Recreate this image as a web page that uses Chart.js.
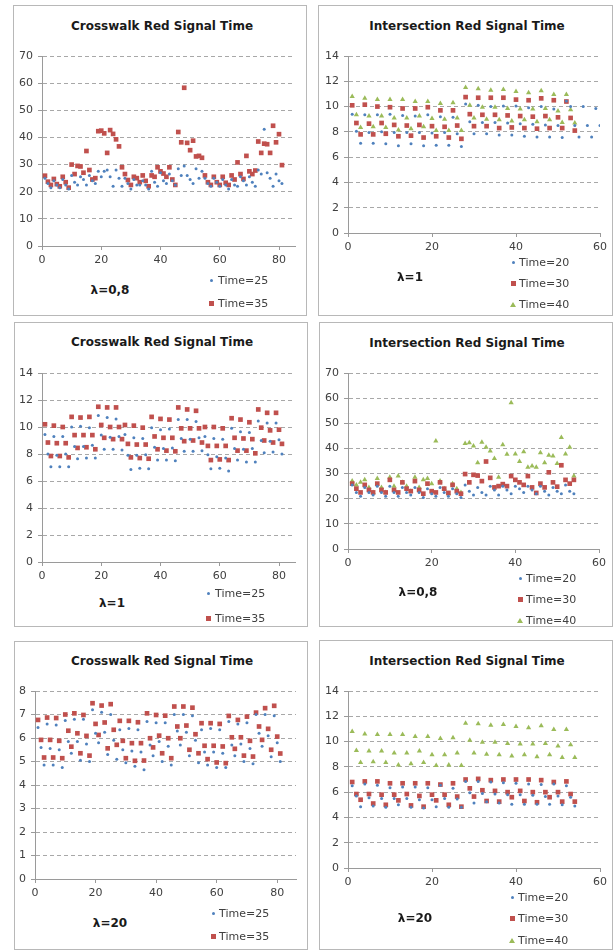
<!DOCTYPE html>
<html>
<head>
<meta charset="utf-8">
<script src="https://cdn.jsdelivr.net/npm/chart.js@4"></script>
<style>
  html, body { margin: 0; padding: 0; background: #ffffff; }
  body { width: 614px; height: 952px; position: relative; overflow: hidden; font-family: "DejaVu Sans", sans-serif; }
  .panel { position: absolute; box-sizing: border-box; border: 1px solid #b8b8b8; background: #fff; }
  canvas { position: absolute; }
  .title { position: absolute; transform: translate(-50%, -50%); font-weight: bold; font-size: 12px; color: #1a1a1a; white-space: nowrap; }
  .lam { position: absolute; transform: translate(-50%, -50%); font-weight: bold; font-size: 12px; color: #1a1a1a; white-space: nowrap; }
  .legtxt { position: absolute; transform: translateY(-50%); font-size: 11px; color: #404040; white-space: nowrap; }
  .mk { position: absolute; }
</style>
</head>
<body>
<script>
// ---------------- DATA ----------------
// Crosswalk, lambda = 0,8
const cw08_t25 = [25,23,21.5,24,22.5,21.5,24.5,22.5,21,26,23.5,22.5,25.5,24.5,22.5,26,24,23,27.5,25.5,27.5,28,25.5,22,28,25,22,25,23,21,24.5,22.5,22.5,24,22.5,21,27.5,23.5,22,27,24,23,26.5,24,22.5,28.5,26,29.5,26,24.5,23,28.5,25,27.5,25,23,22,25,23.5,22,24.5,22.5,21,24.5,22.5,22,25.5,24,22.5,25.5,23.5,22,28,26.5,43,27,25,22,26.5,24,23];
const cw08_t35 = [25.9,23.7,22.5,24.7,22.8,22,25.5,23.5,21.5,30,26.5,29.5,29.3,27,35,28,24.5,25,42.3,42.5,41.5,34.3,42.7,41.3,39.3,36.7,29,26.5,24.3,22.5,25.5,25,23.5,26,24,22,26,25.5,29,27.5,26.7,25.5,29,24.5,22.5,42,38.2,58.3,38,35.3,38.8,33,33.2,32.5,26,23.5,22.5,25.5,23.5,22.5,25.5,23.3,22.5,26,24.5,30.8,26.5,24.7,33.2,27.5,26.5,27.8,38.5,34.3,37.7,37.5,34.3,44.3,38.2,41.2,29.8];

// Intersection, lambda = 1
const in1_t20 = [9.4,8.05,7.1,9.35,7.95,7.1,9.35,8.0,7.05,9.4,7.95,6.9,9.3,7.95,7.05,9.25,7.95,6.9,9.35,7.9,6.95,9.2,7.95,6.95,9.15,7.85,6.85,10.2,8.8,7.85,10.1,8.75,7.85,10.0,8.75,7.75,10.05,8.7,7.75,10.05,8.65,7.65,9.9,8.6,7.6,10.0,8.55,7.6,9.8,8.5,7.55,10.45,10.0,8.5,7.6,10.0,8.5,7.6,9.85,8.5];
const in1_t30 = [10.1,8.7,7.8,10.15,8.65,7.8,10.0,8.7,7.85,9.95,8.55,7.65,9.85,8.5,7.7,9.85,8.55,7.55,9.95,8.45,7.65,9.7,8.4,7.55,9.7,8.5,7.45,10.75,9.4,8.45,10.7,9.35,8.45,10.7,9.35,8.3,10.7,9.3,8.35,10.55,9.25,8.3,10.5,9.2,8.25,10.65,9.25,8.3,10.5,9.15,8.3,10.4,9.1,8.1];
const in1_t40 = [10.8,9.35,8.35,10.65,9.25,8.4,10.55,9.25,8.35,10.55,9.1,8.15,10.55,9.1,8.25,10.4,9.25,8.4,10.4,9.05,8.1,10.25,9.0,8.1,10.3,9.1,8.1,11.5,10.1,9.1,11.4,9.95,9.0,11.3,9.95,8.95,11.35,9.85,8.85,11.2,9.8,8.95,11.1,9.8,8.8,11.25,9.85,8.95,10.95,9.65,8.75,10.95,9.75,8.7];

// Crosswalk, lambda = 1
const cw1_t25 = [9.45,8.0,7.05,9.3,7.9,7.05,9.3,8.0,7.05,10.0,8.55,7.65,10.05,8.55,7.7,9.95,8.65,7.7,10.85,9.4,8.35,10.7,9.25,8.35,10.6,9.3,8.3,9.45,7.9,6.85,9.2,7.9,6.95,9.15,7.95,6.9,9.95,8.5,7.55,9.8,8.4,7.55,9.85,8.45,7.5,10.55,9.15,8.2,10.55,9.1,8.2,10.4,9.2,8.25,9.3,7.95,6.9,9.15,7.8,6.95,9.1,7.7,6.75,9.9,8.4,7.55,9.65,8.35,7.4,9.6,8.4,7.4,10.45,9.0,8.1,10.3,8.95,8.15,10.3,9.05,8.0];
const cw1_t35 = [10.2,8.85,7.85,10.1,8.8,7.85,10.0,8.8,7.75,10.75,9.4,8.45,10.7,9.4,8.5,10.75,9.4,8.35,11.5,10.15,9.2,11.45,10.0,9.1,11.45,10.0,9.1,10.15,8.75,7.75,10.1,8.7,7.7,9.95,8.7,7.65,10.75,9.3,8.35,10.6,9.2,8.25,10.55,9.2,8.2,11.45,9.9,8.95,11.3,9.9,9.0,11.2,9.9,8.85,10.0,8.6,7.55,10.0,8.6,7.6,9.9,8.6,7.55,10.65,9.2,8.25,10.55,9.15,8.25,10.35,9.1,8.05,11.3,9.95,9.0,11.05,9.75,8.85,11.05,9.8,8.75];

// Intersection, lambda = 0,8
const in08_t20 = [25.5,22.5,21,24.5,22.5,21.5,25,22.5,21,25,22.5,21,24.5,22.5,21.5,24.5,22.5,20.5,24,22,21,24.5,22.5,21,24,22,20.5,25.5,23,21.5,24.5,22.5,21.5,25,23.5,21.5,25,23.5,22,25,24,22.5,25,23.5,22,25,23,21.5,24.5,23,22,25.5,23,22];
const in08_t30 = [26,24,22.5,25.5,23.5,22.5,26,23.5,22.5,27.5,23.5,22.5,26.5,24,23,27,23.5,22,26,23,22.5,26.5,24,22.3,25.5,23,22,29.8,26.5,29.5,29.2,27,34.8,28.3,24.5,25,25.8,25,29,27.5,26.5,25.5,29,24.5,22.3,26,24.5,30.5,26.5,24.8,33.3,27.5,26,27.5];
const in08_t40 = [27,25.5,26.5,27.5,24.5,22.5,28,24.5,22.5,28.5,25,29,26.5,25,23,28.5,24.5,27.5,28,26,43,27,24,22,26,24,22.5,42,42.3,41,34.3,42.5,40.5,39,36,28.5,41.5,37.7,58.2,37.8,34.8,38.7,32.5,33,32.5,38.3,34.3,37.3,37,34,44.3,37.8,40.5,29];

// Crosswalk, lambda = 20
const cw20_t25 = [6.45,5.6,4.85,6.6,5.55,4.85,6.55,5.5,4.75,6.75,5.85,5.35,6.8,5.85,5.05,6.8,5.75,5.0,7.2,6.2,5.8,7.1,6.25,5.3,7.0,5.9,5.1,6.35,5.5,4.95,6.4,5.45,4.8,6.35,5.4,4.65,6.7,5.7,5.25,6.65,5.85,5.0,6.65,5.65,4.85,7.0,6.3,5.7,7.0,6.25,5.25,6.95,5.9,4.95,6.35,5.4,4.85,6.4,5.4,4.75,6.35,5.35,4.75,6.7,5.7,5.25,6.6,5.75,5.0,6.65,5.55,4.9,7.0,6.2,5.65,7.0,6.1,5.2,6.95,5.8,5.0];
const cw20_t35 = [6.77,5.92,5.17,6.87,5.92,5.17,6.85,5.88,5.14,7.0,6.31,5.63,7.05,6.2,5.35,6.98,6.09,5.25,7.48,6.6,6.13,7.38,6.66,5.56,7.44,6.35,5.71,6.73,5.88,5.14,6.73,5.78,5.03,6.67,5.78,5.04,7.05,5.99,5.6,6.98,6.1,5.35,6.95,5.99,5.14,7.34,6.49,5.99,7.34,6.53,5.5,7.29,6.16,5.35,6.63,5.67,5.1,6.63,5.67,4.96,6.6,5.64,4.93,6.94,6.03,5.54,6.77,6.03,5.25,6.91,5.88,5.21,7.08,6.49,5.92,7.27,6.39,5.5,7.37,6.06,5.34];

// Intersection, lambda = 20
const in20_t20 = [6.5,5.7,4.85,6.65,5.55,4.9,6.55,5.5,4.8,6.35,5.5,5.0,6.4,5.5,4.8,6.4,5.4,4.75,6.35,5.4,4.85,6.55,5.5,4.8,6.3,5.45,4.8,6.85,5.95,5.15,6.85,5.9,5.25,6.8,5.85,5.15,6.75,5.8,5.05,6.7,5.8,5.05,6.65,5.75,5.05,6.6,5.65,5.05,6.65,5.7,5.0,6.5,5.6,4.9];
const in20_t30 = [6.8,5.85,5.4,6.85,5.85,5.1,6.85,5.8,5.0,6.7,5.8,5.35,6.7,5.85,4.95,6.7,5.7,4.85,6.7,5.8,5.35,6.6,5.8,5.0,6.7,5.65,4.85,7.0,6.3,5.65,7.05,6.15,5.3,6.95,6.1,5.25,7.0,6.0,5.6,7.0,6.1,5.3,7.0,6.0,5.2,6.95,6.0,5.6,6.8,6.0,5.25,6.85,5.85,5.25];
const in20_t40 = [10.8,9.3,8.35,10.6,9.25,8.4,10.55,9.25,8.35,10.55,9.1,8.15,10.55,9.1,8.25,10.4,9.25,8.35,10.4,8.95,8.1,10.25,8.95,8.15,10.3,9.1,8.1,11.45,10.1,9.1,11.4,9.95,9.0,11.3,9.95,8.95,11.35,9.85,8.85,11.2,9.8,8.95,11.1,9.8,8.8,11.25,9.85,8.95,10.95,9.65,8.75,10.95,9.75,8.75];

// Texts
const titleCross = "Crosswalk Red Signal Time";
const titleInter = "Intersection Red Signal Time";
const crossLabels = ["Time=25", "Time=35"];
const interLabels = ["Time=20", "Time=30", "Time=40"];

// ---------------- STYLE ----------------
const BLUE = "#4f81bd", RED = "#c0504d", GREEN = "#9bbb59";
const AXIS = "#9a9a9a", GRID = "#a8a8a8";
const styles = {
  blue:  { color: BLUE,  pointStyle: "circle",   r: 1.5 },
  red:   { color: RED,   pointStyle: "rect",     r: 3.3 },
  green: { color: GREEN, pointStyle: "triangle", r: 3.0 }
};

const panels = [
  { box: [13, 5, 294, 311], area: [42, 56, 295, 246], xmax: 85.4, ymax: 70, ystep: 10,
    title: titleCross, tpos: [162, 26], lam: "λ=0,8", lpos: [110, 290],
    series: [[cw08_t25, "blue"], [cw08_t35, "red"]], labels: crossLabels,
    leg: { x: 211, tx: 218, ys: [280, 303] } },
  { box: [318, 5, 295, 311], area: [348, 56, 600, 233], xmax: 60, ymax: 14, ystep: 2,
    title: titleInter, tpos: [467, 26], lam: "λ=1", lpos: [410, 277],
    series: [[in1_t20, "blue"], [in1_t30, "red"], [in1_t40, "green"]], labels: interLabels,
    leg: { x: 513, tx: 519, ys: [262, 283, 304] } },
  { box: [14, 322, 294, 305], area: [42, 373, 295, 562], xmax: 85.4, ymax: 14, ystep: 2,
    title: titleCross, tpos: [162, 342], lam: "λ=1", lpos: [112, 603],
    series: [[cw1_t25, "blue"], [cw1_t35, "red"]], labels: crossLabels,
    leg: { x: 208, tx: 215, ys: [593, 618] } },
  { box: [319, 322, 294, 305], area: [348, 373, 599, 549], xmax: 60, ymax: 70, ystep: 10,
    title: titleInter, tpos: [467, 343], lam: "λ=0,8", lpos: [418, 592],
    series: [[in08_t20, "blue"], [in08_t30, "red"], [in08_t40, "green"]], labels: interLabels,
    leg: { x: 520, tx: 526, ys: [578, 599, 620] } },
  { box: [14, 641, 294, 309], area: [35, 691, 296, 879], xmax: 86.2, ymax: 8, ystep: 1,
    title: titleCross, tpos: [162, 661], lam: "λ=20", lpos: [110, 923],
    series: [[cw20_t25, "blue"], [cw20_t35, "red"]], labels: crossLabels,
    leg: { x: 213, tx: 219, ys: [913, 936] } },
  { box: [319, 640, 294, 310], area: [348, 691, 600, 868], xmax: 60, ymax: 14, ystep: 2,
    title: titleInter, tpos: [467, 661], lam: "λ=20", lpos: [415, 918],
    series: [[in20_t20, "blue"], [in20_t30, "red"], [in20_t40, "green"]], labels: interLabels,
    leg: { x: 512, tx: 518, ys: [897, 918, 940] } }
];

function el(tag, cls, css, text) {
  const e = document.createElement(tag);
  if (cls) e.className = cls;
  Object.assign(e.style, css || {});
  if (text !== undefined) e.textContent = text;
  document.body.appendChild(e);
  return e;
}

function marker(kind, x, y) {
  if (kind === "blue") {
    el("div", "mk", { left: (x - 1.5) + "px", top: (y - 1.5) + "px", width: "3px", height: "3px", borderRadius: "50%", background: BLUE });
  } else if (kind === "red") {
    el("div", "mk", { left: (x - 2.5) + "px", top: (y - 2.5) + "px", width: "5px", height: "5px", background: RED });
  } else {
    el("div", "mk", { left: (x - 3) + "px", top: (y - 2.5) + "px", width: "0", height: "0",
      borderLeft: "3px solid transparent", borderRight: "3px solid transparent", borderBottom: "5px solid " + GREEN });
  }
}

const PADL = 40, PADT = 12, PADR = 12, PADB = 28, YW = 30, XH = 18;

panels.forEach((p) => {
  el("div", "panel", { left: p.box[0] + "px", top: p.box[1] + "px", width: p.box[2] + "px", height: p.box[3] + "px" });
});

panels.forEach((p) => {
  const [cl, ct, cr, cb] = p.area;
  const w = cr - cl + PADL + PADR, h = cb - ct + PADT + PADB;
  const cv = el("canvas", "", { left: (cl - PADL) + "px", top: (ct - PADT) + "px", width: w + "px", height: h + "px" });
  cv.width = w; cv.height = h;

  const datasets = p.series.map(([vals, kind], si) => {
    const st = styles[kind];
    return {
      label: p.labels[si],
      data: vals.map((v, i) => ({ x: i + 1, y: v })),
      pointStyle: st.pointStyle,
      pointRadius: st.r,
      pointHoverRadius: st.r,
      backgroundColor: st.color,
      borderColor: st.color,
      borderWidth: 0,
      showLine: false
    };
  });

  const tickFont = { family: "DejaVu Sans", size: 11 };
  new Chart(cv, {
    type: "scatter",
    data: { datasets },
    options: {
      responsive: false,
      animation: false,
      events: [],
      layout: { padding: { left: PADL - YW, top: PADT, right: PADR, bottom: PADB - XH } },
      plugins: { legend: { display: false }, tooltip: { enabled: false }, title: { display: false } },
      scales: {
        x: {
          type: "linear", min: 0, max: p.xmax,
          afterFit: (s) => { s.height = XH; },
          ticks: { stepSize: 20, includeBounds: false, font: tickFont, color: "#404040", padding: 4, maxRotation: 0 },
          grid: { drawOnChartArea: false, drawTicks: true, tickLength: 4, color: AXIS, tickColor: AXIS, tickBorderDash: [] },
          border: { color: AXIS, width: 1 }
        },
        y: {
          type: "linear", min: 0, max: p.ymax,
          afterFit: (s) => { s.width = YW; },
          ticks: { stepSize: p.ystep, font: tickFont, color: "#404040", padding: 5 },
          grid: { color: GRID, lineWidth: 1, drawTicks: true, tickLength: 4, tickColor: AXIS, tickBorderDash: [] },
          border: { color: AXIS, width: 1, dash: [4, 3] }
        }
      }
    }
  });

  el("div", "title", { left: p.tpos[0] + "px", top: p.tpos[1] + "px" }, p.title);
  el("div", "lam", { left: p.lpos[0] + "px", top: p.lpos[1] + "px" }, p.lam);
  p.series.forEach(([vals, kind], si) => {
    const y = p.leg.ys[si];
    marker(kind, p.leg.x, y);
    el("div", "legtxt", { left: p.leg.tx + "px", top: y + "px" }, p.labels[si]);
  });
});
</script>
</body>
</html>
